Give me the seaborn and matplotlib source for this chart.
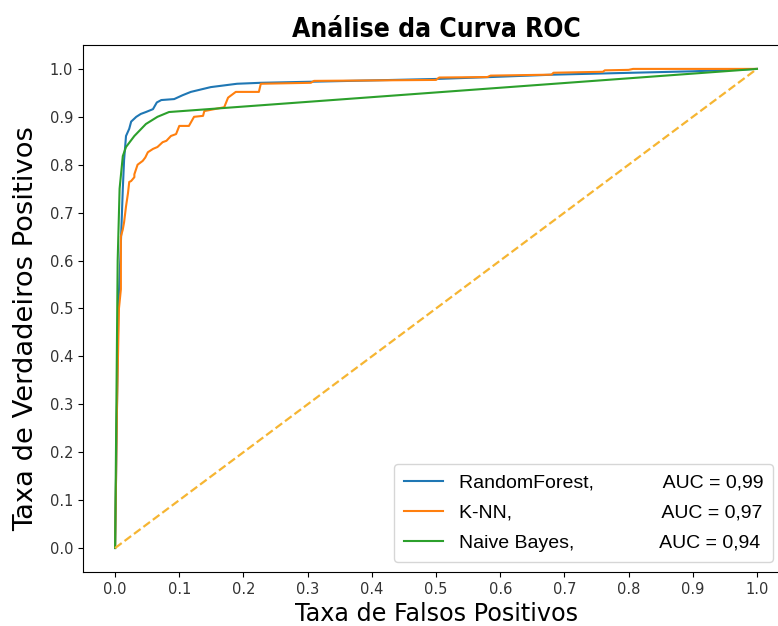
import numpy as np
import pandas as pd
import matplotlib.pyplot as plt
import seaborn as sns

# ROC curves
models = ["RandomForest", "K-NN", "Naive Bayes"]
aucs = ["0,99", "0,97", "0,94"]
label_gaps = [13, 28, 16]  # spaces between name and AUC in the legend

rf_fpr = [0.0, 0.002, 0.005, 0.008, 0.012, 0.014, 0.017, 0.022, 0.025, 0.033, 0.040,
          0.048, 0.059, 0.065, 0.072, 0.092, 0.105, 0.118, 0.149, 0.190, 0.227,
          0.367, 0.500, 0.585, 0.683, 0.807, 0.900, 1.0]
rf_tpr = [0.0, 0.20, 0.50, 0.60, 0.75, 0.81, 0.86, 0.875, 0.89, 0.90, 0.906,
          0.91, 0.916, 0.93, 0.935, 0.937, 0.945, 0.952, 0.962, 0.969, 0.971,
          0.975, 0.979, 0.983, 0.988, 0.992, 0.995, 1.0]

knn_fpr = [0.0, 0.003, 0.006, 0.009, 0.009, 0.012, 0.014, 0.017, 0.020, 0.022, 0.025,
           0.030, 0.030, 0.035, 0.043, 0.047, 0.051, 0.059, 0.066, 0.074, 0.080,
           0.087, 0.095, 0.100, 0.115, 0.123, 0.137, 0.139, 0.170, 0.176, 0.188,
           0.224, 0.227, 0.305, 0.310, 0.500, 0.505, 0.580, 0.585, 0.680, 0.683,
           0.760, 0.763, 0.800, 0.807, 1.0]
knn_tpr = [0.0, 0.30, 0.50, 0.54, 0.65, 0.665, 0.68, 0.713, 0.74, 0.764, 0.766,
           0.774, 0.78, 0.80, 0.808, 0.815, 0.826, 0.833, 0.837, 0.847, 0.85,
           0.86, 0.864, 0.881, 0.881, 0.90, 0.902, 0.912, 0.92, 0.94, 0.952,
           0.952, 0.969, 0.971, 0.975, 0.977, 0.982, 0.983, 0.986, 0.988, 0.992,
           0.994, 0.997, 0.998, 1.0, 1.0]

nb_fpr = [0.0, 0.002, 0.004, 0.007, 0.012, 0.017, 0.030, 0.048, 0.066, 0.084, 1.0]
nb_tpr = [0.0, 0.30, 0.60, 0.75, 0.818, 0.837, 0.86, 0.885, 0.90, 0.91, 1.0]

chance = [0.0, 1.0]

curves = [(rf_fpr, rf_tpr), (knn_fpr, knn_tpr), (nb_fpr, nb_tpr)]
colors = ["#1f77b4", "#ff7f0e", "#2ca02c"]

fig = plt.figure(figsize=(7.78, 6.26), dpi=100)
ax = fig.add_axes([0.1067, 0.0863, 0.9075, 0.8419])

for name, auc, gap, (fpr, tpr), color in zip(models, aucs, label_gaps, curves, colors):
    label = f"{name},{' ' * gap}AUC = {auc}"
    sns.lineplot(x=fpr, y=tpr, ax=ax, color=color, linewidth=1.5,
                 sort=False, estimator=None, label=label)

sns.lineplot(x=chance, y=chance, ax=ax, color="#f6b532", linewidth=1.6,
             linestyle="--", sort=False, estimator=None)

ax.set_xticks(np.arange(0, 1.01, 0.1))
ax.set_yticks(np.arange(0, 1.01, 0.1))
ax.tick_params(labelsize=10.5, labelcolor="#333333")
ax.set_xlabel("Taxa de Falsos Positivos", fontsize=17.2)
ax.set_ylabel("Taxa de Verdadeiros Positivos", fontsize=19.7)
ax.yaxis.set_label_coords(-0.062, 0.461)
ax.set_title("Análise da Curva ROC", fontsize=19, fontweight="bold",
             fontstretch="condensed")
ax.legend(loc="lower right", bbox_to_anchor=(0.977, 0.019), borderaxespad=0,
          labelspacing=0.65, borderpad=0.5,
          prop={"family": "Liberation Sans", "size": 14})

fig.savefig("out.png", dpi=100)
